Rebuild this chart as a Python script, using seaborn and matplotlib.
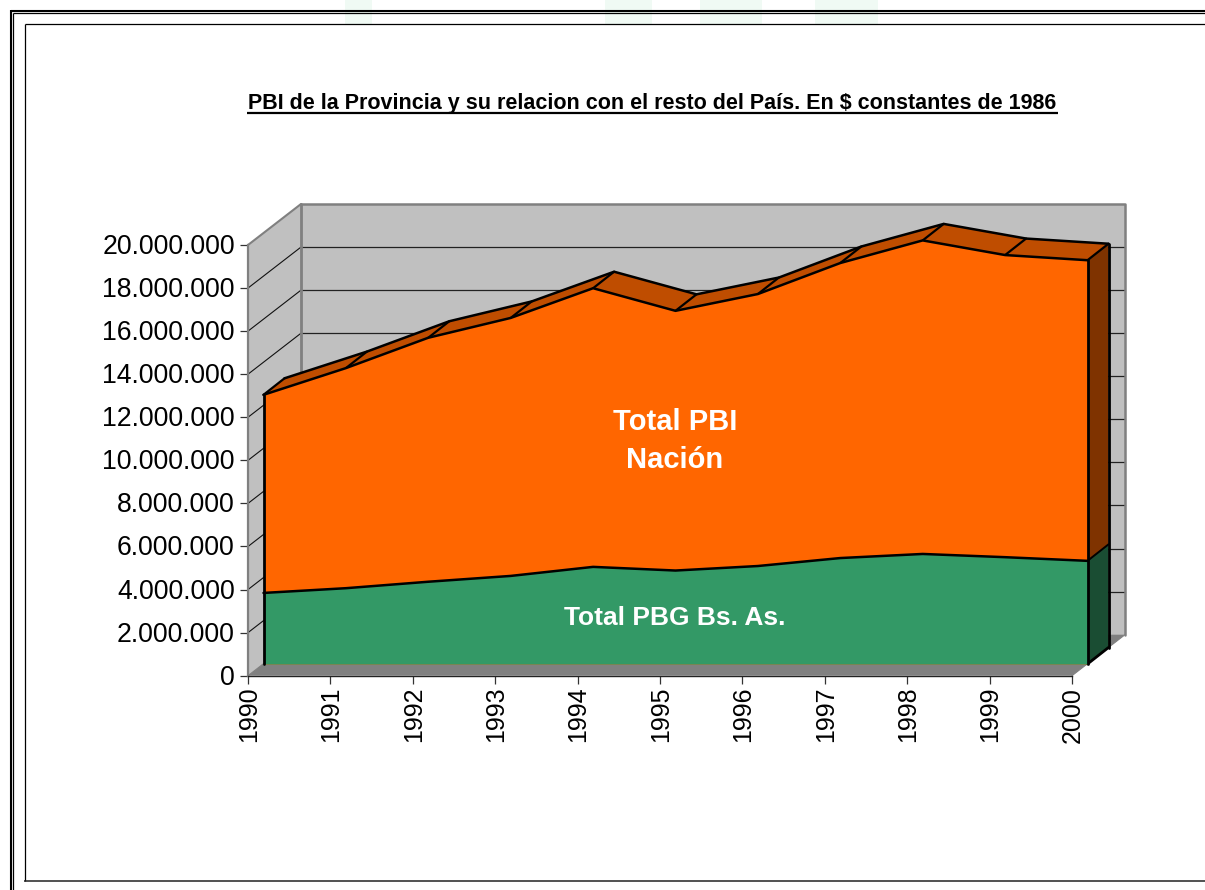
import matplotlib
matplotlib.use("Agg")
import matplotlib.pyplot as plt
from matplotlib.lines import Line2D
from matplotlib.patches import Rectangle
from matplotlib.transforms import Affine2D
import numpy as np
import seaborn as sns

years = [1990, 1991, 1992, 1993, 1994, 1995, 1996, 1997, 1998, 1999, 2000]
total_pbi_nacion = [12.50e6, 13.74e6, 15.15e6, 16.07e6, 17.45e6, 16.40e6, 17.18e6, 18.62e6, 19.67e6, 18.99e6, 18.75e6]
total_pbg_bsas = [3.30e6, 3.52e6, 3.82e6, 4.09e6, 4.51e6, 4.34e6, 4.55e6, 4.92e6, 5.11e6, 4.96e6, 4.79e6]
y_ticks = list(range(0, 20000001, 2000000))
y_tick_labels = ["0", "2.000.000", "4.000.000", "6.000.000", "8.000.000", "10.000.000",
                 "12.000.000", "14.000.000", "16.000.000", "18.000.000", "20.000.000"]
title = "PBI de la Provincia y su relacion con el resto del País. En $ constantes de 1986"
label_nacion = "Total PBI\nNación"
label_pbg = "Total PBG Bs. As."

GREEN, ORANGE = "#339966", "#FF6600"
GREEN_SIDE, ORANGE_SIDE, ORANGE_TOP = "#1A4D33", "#7F3300", "#BF4D00"
WALL, FLOOR = "#C0C0C0", "#808080"

sns.set_theme(style="white")
plt.rcParams["font.family"] = ["Liberation Sans", "DejaVu Sans"]

W, H = 1205, 890
fig = plt.figure(figsize=(W / 100, H / 100), dpi=100, facecolor="white")
X0, X1, Y0, Y1 = 248.0, 1072.0, 675.7, 245.0
ax = fig.add_axes([X0 / W, 1 - Y0 / H, (X1 - X0) / W, (Y0 - Y1) / H])
ax.set_xlim(1990, 2000)
ax.set_ylim(0, 20000000)
ax.patch.set_visible(False)

PX = 10 / (X1 - X0)
PY = 20000000 / (Y0 - Y1)


def sx(x, px):
    return np.asarray(x, float) + px * PX


def sy(y, py):
    return np.asarray(y, float) + py * PY


WX, WY = 53, 41      # back wall depth, pixels
FX, FY = 15.5, 11.7  # front face of the area
BX, BY = 36.5, 28.2  # back face of the area


def poly(xs, ys, color, z, edge="none", lw=0):
    ax.fill(xs, ys, facecolor=color, edgecolor=edge, linewidth=lw, zorder=z, clip_on=False)


def seg(xs, ys, color="black", lw=1.0, z=5, cap="round"):
    ax.plot(xs, ys, color=color, lw=lw, zorder=z, clip_on=False, solid_capstyle=cap)


# walls and floor
top = 20000000
poly([sx(1990, WX), sx(2000, WX), sx(2000, WX), sx(1990, WX)],
     [sy(0, WY), sy(0, WY), sy(top, WY), sy(top, WY)], WALL, 1)
poly([1990, sx(1990, WX), sx(1990, WX), 1990], [0, sy(0, WY), sy(top, WY), top], WALL, 1)
poly([1990, 2000, sx(2000, WX), sx(1990, WX)], [0, 0, sy(0, WY), sy(0, WY)], FLOOR, 1.5)

for v in y_ticks[1:-1]:
    seg([1990, sx(1990, WX)], [v, sy(v, WY)], "#111111", 0.8, 2)
    seg([sx(1990, WX), sx(2000, WX)], [sy(v, WY), sy(v, WY)], "#222222", 0.9, 2)

seg([sx(1990, WX), sx(1990, WX)], [sy(0, WY), sy(top, WY)], FLOOR, 2.0, 3)
seg([sx(1990, WX), sx(2000, WX), sx(2000, WX)], [sy(top, WY), sy(top, WY), sy(0, WY)], FLOOR, 1.8, 3)
seg([1990, sx(1990, WX)], [top, sy(top, WY)], FLOOR, 1.5, 3)
seg([2000, sx(2000, WX)], [0, sy(0, WY)], FLOOR, 0.8, 3)
seg([1990, sx(1990, WX)], [0, sy(0, WY)], FLOOR, 0.8, 3)

# area: top faces, side faces, front faces
fx, bx = sx(years, FX), sx(years, BX)
ft, bt = sy(total_pbi_nacion, FY), sy(total_pbi_nacion, BY)
fg, bg = sy(total_pbg_bsas, FY), sy(total_pbg_bsas, BY)
f0, b0 = sy(0, FY), sy(0, BY)

for i in range(len(years) - 1):
    poly([fx[i], fx[i + 1], bx[i + 1], bx[i]], [ft[i], ft[i + 1], bt[i + 1], bt[i]], ORANGE_TOP, 4)

poly([fx[-1], bx[-1], bx[-1], fx[-1]], [ft[-1], bt[-1], bg[-1], fg[-1]], ORANGE_SIDE, 4)
poly([fx[-1], bx[-1], bx[-1], fx[-1]], [fg[-1], bg[-1], b0, f0], GREEN_SIDE, 4)

ax.fill_between(fx, f0, ft, color=ORANGE, lw=0, zorder=6, clip_on=False)
ax.fill_between(fx, f0, fg, color=GREEN, lw=0, zorder=6.5, clip_on=False)

for i in range(len(years)):
    seg([fx[i], bx[i]], [ft[i], bt[i]], "black", 1.6, 5)

sns.lineplot(x=bx, y=bt, color="black", lw=1.8, ax=ax, zorder=5, clip_on=False, estimator=None, sort=False)
sns.lineplot(x=fx, y=ft, color="black", lw=1.8, ax=ax, zorder=7, clip_on=False, estimator=None, sort=False)
sns.lineplot(x=fx, y=fg, color="black", lw=1.8, ax=ax, zorder=7, clip_on=False, estimator=None, sort=False)

seg([fx[0], fx[0]], [ft[0], f0], "black", 2.0, 7)
seg([fx[-1], fx[-1]], [ft[-1], f0], "black", 2.0, 7)
seg([bx[-1], bx[-1]], [bt[-1], b0], "black", 2.0, 5)
seg([fx[-1], bx[-1]], [f0, b0], "black", 2.0, 5)
seg([fx[-1], bx[-1]], [fg[-1], bg[-1]], "black", 1.4, 5)

# axes
ax.set_xlim(1990, 2000)
ax.set_ylim(0, 20000000)
ax.set_xticks(years)
ax.set_xticklabels([str(y) for y in years], rotation=90, fontsize=18, color="black")
ax.set_yticks(y_ticks)
ax.set_yticklabels(y_tick_labels, fontsize=19.2, color="black")
ax.tick_params(axis="x", length=6, width=0.9, color="#333333", pad=2, bottom=True)
ax.tick_params(axis="y", length=6, width=0.9, color="#333333", pad=3.5, left=True)
for lab in ax.get_yticklabels():
    lab.set_transform(lab.get_transform() + Affine2D().translate(0, 1))
for lab in ax.get_xticklabels():
    lab.set_transform(lab.get_transform() + Affine2D().translate(1, 0))
ax.set_xlabel("")
ax.set_ylabel("")
ax.grid(False)
for side in ("top", "right"):
    ax.spines[side].set_visible(False)
ax.spines["left"].set_color(FLOOR)
ax.spines["left"].set_linewidth(1.6)
ax.spines["bottom"].set_color("#222222")
ax.spines["bottom"].set_linewidth(1.0)
for s in ax.spines.values():
    s.set_zorder(3)


def fpt(x, y):
    return x / W, 1 - y / H


# texts
x, y = fpt(675, 441)
fig.text(x, y, label_nacion, color="white", fontsize=21, fontweight="bold",
         ha="center", va="center", linespacing=1.42, zorder=10)
x, y = fpt(675, 618)
fig.text(x, y, label_pbg, color="white", fontsize=19, fontweight="bold",
         ha="center", va="center", zorder=10)
x, y = fpt(652.5, 104)
fig.text(x, y, title, color="black", fontsize=15.5, fontweight="bold", ha="center", va="center")


def rule(x0, y0, x1, y1, lw, color="black"):
    a, b = fpt(x0, y0)
    c, d = fpt(x1, y1)
    fig.add_artist(Line2D([a, c], [b, d], color=color, lw=lw, solid_capstyle="butt"))


rule(247, 113.2, 1058, 113.2, 1.6)

# page frame
rule(10.5, 10.5, W, 10.5, 1.5)
rule(10.5, 10, 10.5, H, 1.5)
rule(13.2, 13.2, W, 13.2, 0.9)
rule(13.2, 13, 13.2, H, 0.9)
rule(24.5, 24.2, W, 24.2, 0.9)
rule(24.5, 24, 24.5, 881, 0.9)
rule(24, 880.5, W, 880.5, 1.1, "#222222")

# faint watermark showing above the frame
for a, b in [(345, 372), (605, 652), (700, 762), (815, 878)]:
    xa, _ = fpt(a, 0)
    xb, _ = fpt(b, 0)
    fig.add_artist(Rectangle((xa, 1 - 24 / H), xb - xa, 24 / H, transform=fig.transFigure,
                             facecolor="#F0FAF4", edgecolor="none", zorder=-1))

fig.savefig("out.png", dpi=100, facecolor="white")
